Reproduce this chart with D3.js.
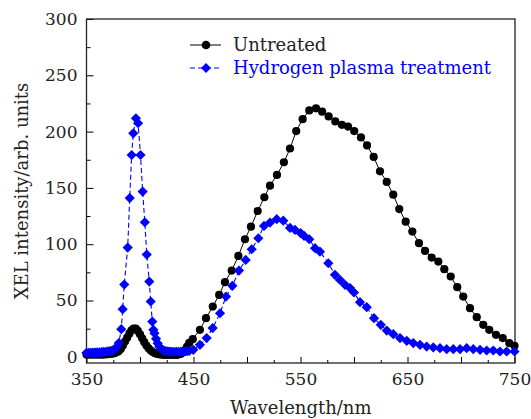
<!DOCTYPE html>
<html>
<head>
<meta charset="utf-8">
<script src="https://cdn.jsdelivr.net/npm/d3@7"></script>
<style>
  body { margin: 0; background: #fff; }
  svg text { font-family: "DejaVu Serif", serif; }
</style>
</head>
<body>
<div id="chart"></div>
<script>
// data
var untreatedNm = [
  350,352,354,356,358,360,362,364,366,368,
  370,372,374,376,378,380,382,384,386,388,
  390,392,394,396,398,400,402,404,406,408,
  410,412,414,416,418,420,422,424,426,428,
  430,432,434,436,438,440,442,444,446,449.3,
  456,461.7,468,474,479.4,485.7,491.9,498.1,503.7,510,
  516.2,521.5,528,534.5,540.2,546,552,558.2,564.5,570.2,
  576.3,582.5,588.7,594.4,600.2,606.5,612.2,618.4,624.3,630.6,
  636.7,642.3,648.3,654.5,660.7,666.4,672.6,678.8,684.4,690.4,
  696.5,702.1,708.4,714.7,720.8,726.4,732.7,739,745.1,750
]
var untreatedVal = [
  2,2,2,2,2,2,2,2,2,2.2,
  2.3,2.5,2.8,3.2,4,5,7,10,13.5,17,
  20.5,23.5,25,25,23,20,16.5,13,10,7.5,
  5.5,4.2,3.2,2.6,2.2,2,1.8,1.8,1.8,1.8,
  1.8,1.8,1.8,2,2.5,4,6,9,12.5,15.7,
  24,34.3,44.6,55,66.3,76.6,89.6,104.4,115.6,129.5,
  141.7,152,161.5,172.8,185,200.5,211,218.8,220.7,217.7,
  213.5,209,206,204.5,200.5,194.8,187.7,177.5,164.7,155.3,
  144,131.2,120,111.2,100.9,94,88.1,84.6,77.8,71.3,
  61.8,53.5,43.2,35.2,28.4,24,19.5,16.6,12.2,9.8
]
var plasmaNm = [
  350,352,354,356,358,360,362,364,366,368,
  370,372,374,376,378,380.2,382.5,383.8,385.3,388.5,
  390.4,392.2,393.7,396.2,398.2,400.5,402.5,404.5,406.3,408.7,
  410,411.5,412.5,413.5,415,416.5,418,420,422,424,
  426,428,430,432,434,436,438,440,442,444,
  446,449.8,456,462.3,467.9,474.8,480.4,486.3,492.5,498.8,
  504.4,510.6,515.9,521.5,527.8,533.9,540.2,544.9,550.2,553.3,
  558.2,563.6,568.2,576,582.2,586.9,591.6,596.3,600,605.6,
  611.9,618.7,625,630.6,636.7,643,649.3,655.4,661.7,667.9,
  674.1,680.4,686.6,692.8,699.1,705.3,711.5,717.8,724,730.2,
  736.4,742.7,750
]
var plasmaVal = [
  3.5,3.5,3.6,3.7,3.8,4,4,4.2,4.3,4.5,
  4.8,5,5.5,6.5,8.5,12.2,24.5,42.3,64.2,97,
  141,179.2,198.5,211.8,207.4,179.2,146.7,119.5,90.8,66.8,
  49.1,31.3,24,21,16,12,9,7,5.5,5,
  4.8,4.6,4.5,4.5,4.5,4.5,4.5,4.6,4.8,5,
  5.3,6.2,10.6,16.6,25.5,38.7,53.5,63,76.6,86,
  95.5,105.3,116.2,119.2,122.2,120.9,114.5,112.7,109.8,107.4,
  104.4,96.5,93.4,83.1,72.8,68.3,63.9,61,57.1,48.5,
  44.1,34.3,28.4,23.3,20.1,16.6,14.2,12.2,10.6,9.1,
  8.3,7.7,6.8,6.8,6.8,7.7,6.8,6.2,5.6,5.6,
  4.7,4.7,4.7
]
var seriesNames = ['Untreated', 'Hydrogen plasma treatment']
var xTicks = d3.range(350, 751, 25)
var xLabels = [350, 450, 550, 650, 750]
var yTicks = d3.range(0, 301, 25)
var yLabels = [0, 50, 100, 150, 200, 250, 300]

var W = 531, H = 419
var mLeft = 86.5, mRight = 515, mTop = 19, mBottom = 363

var x = d3.scaleLinear().domain([350, 750]).range([mLeft, 514.5])
var y = d3.scaleLinear().domain([-5.5, 300]).range([mBottom, mTop])

var svg = d3.select('#chart').append('svg')
  .attr('width', W)
  .attr('height', H)

var untreated = d3.zip(untreatedNm, untreatedVal)
var plasma = d3.zip(plasmaNm, plasmaVal)

// axes, ticks pointing inward
var xAxis = svg.append('g')
  .attr('transform', 'translate(0,' + mBottom + ')')
  .call(d3.axisBottom(x).tickValues(xTicks).tickSizeInner(-6).tickSizeOuter(0).tickPadding(10)
    .tickFormat(function(d) { return xLabels.indexOf(d) > -1 ? d : '' }))
xAxis.select('.domain').remove()
xAxis.selectAll('.tick line')
  .attr('y2', function(d) { return d % 50 == 0 ? -6 : -3 })
  .attr('stroke', '#000')
xAxis.selectAll('text').style('font-size', '17px').attr('fill', '#222')

var yAxis = svg.append('g')
  .attr('transform', 'translate(' + mLeft + ',0)')
  .call(d3.axisLeft(y).tickValues(yTicks).tickSizeInner(-7).tickSizeOuter(0).tickPadding(9)
    .tickFormat(function(d) { return yLabels.indexOf(d) > -1 ? d : '' }))
yAxis.select('.domain').remove()
yAxis.selectAll('.tick line')
  .attr('x2', function(d) { return d % 50 == 0 ? 7 : 4 })
  .attr('stroke', '#000')
yAxis.selectAll('text').style('font-size', '17px').attr('fill', '#222')

// frame
svg.append('rect')
  .attr('x', mLeft).attr('y', mTop)
  .attr('width', mRight - mLeft).attr('height', mBottom - mTop)
  .attr('fill', 'none')
  .attr('stroke', '#222')
  .attr('stroke-width', 1.3)

var line = d3.line()
  .x(function(d) { return x(d[0]) })
  .y(function(d) { return y(d[1]) })

function diamond(r) {
  return 'M0,' + (-r) + 'L' + r + ',0L0,' + r + 'L' + (-r) + ',0Z'
}

// untreated
svg.append('path')
  .datum(untreated)
  .attr('fill', 'none')
  .attr('stroke', '#000')
  .attr('stroke-width', 1)
  .attr('d', line)
svg.append('g').selectAll('circle')
  .data(untreated)
  .enter()
  .append('circle')
  .attr('cx', function(d) { return x(d[0]) })
  .attr('cy', function(d) { return y(d[1]) })
  .attr('r', 4.1)
  .attr('fill', '#000')

// hydrogen plasma
svg.append('path')
  .datum(plasma)
  .attr('fill', 'none')
  .attr('stroke', '#0000ff')
  .attr('stroke-width', 1.1)
  .attr('stroke-dasharray', '5,3')
  .attr('d', line)
svg.append('g').selectAll('path')
  .data(plasma)
  .enter()
  .append('path')
  .attr('transform', function(d) { return 'translate(' + x(d[0]) + ',' + y(d[1]) + ')' })
  .attr('d', diamond(5.1))
  .attr('fill', '#0000ff')

// legend
var lg = svg.append('g')
lg.append('line').attr('x1', 190).attr('x2', 221).attr('y1', 45).attr('y2', 45)
  .attr('stroke', '#000').attr('stroke-width', 1)
lg.append('circle').attr('cx', 206).attr('cy', 45).attr('r', 4.3).attr('fill', '#000')
lg.append('text').attr('x', 233).attr('y', 51).style('font-size', '18px')
  .attr('fill', '#222').text(seriesNames[0])
lg.append('line').attr('x1', 190).attr('x2', 222).attr('y1', 68).attr('y2', 68)
  .attr('stroke', '#0000ff').attr('stroke-width', 1.1).attr('stroke-dasharray', '5,3')
lg.append('path').attr('transform', 'translate(206,68)').attr('d', diamond(5)).attr('fill', '#0000ff')
lg.append('text').attr('x', 233).attr('y', 74).style('font-size', '18px')
  .attr('fill', '#0000ff').text(seriesNames[1])

// axis titles
svg.append('text')
  .attr('x', (mLeft + mRight) / 2)
  .attr('y', 414)
  .attr('text-anchor', 'middle')
  .style('font-size', '18px')
  .attr('fill', '#222')
  .text('Wavelength/nm')
svg.append('text')
  .attr('transform', 'translate(28,' + ((mTop + mBottom) / 2) + ') rotate(-90)')
  .attr('text-anchor', 'middle')
  .style('font-size', '18px')
  .attr('fill', '#222')
  .text('XEL intensity/arb. units')
</script>
</body>
</html>
